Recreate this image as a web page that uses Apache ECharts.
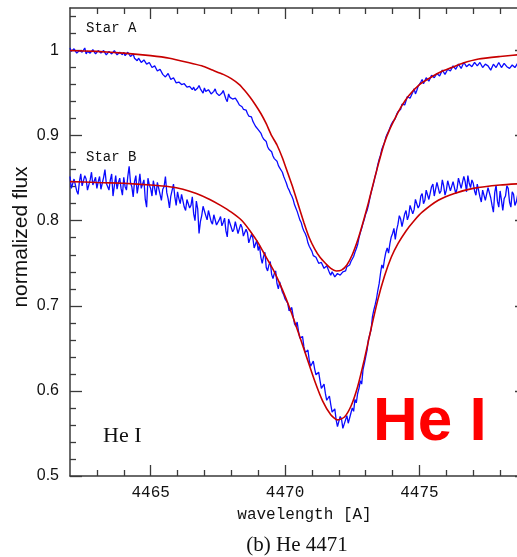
<!DOCTYPE html>
<html><head><meta charset="utf-8">
<script src="https://cdn.jsdelivr.net/npm/echarts@6/dist/echarts.min.js"></script>
<style>html,body{margin:0;padding:0;background:#fff}#c{width:517px;height:557px}</style>
</head><body><div id="c"></div>
<script>
// wavelength sampling grid of the observed spectra
const wlStart = 4462.0, wlStep = 0.05;

// observed spectrum, Star A (normalized flux), one row per Angstrom
const blueA = [
1.003, 0.999, 0.998, 1.002, 1.001, 0.997, 0.997, 1.000, 1.002, 0.998, 0.999, 1.003, 0.996, 0.999, 1.001, 0.997, 0.998, 1.001, 1.000, 0.996,
0.997, 1.000, 1.001, 0.997, 0.996, 1.000, 0.999, 0.995, 0.995, 0.999, 1.000, 0.996, 0.997, 1.000, 0.999, 0.995, 0.994, 0.998, 0.998, 0.995,
0.998, 0.994, 0.995, 0.998, 0.997, 0.993, 0.993, 0.996, 0.991, 0.989, 0.988, 0.991, 0.990, 0.986, 0.986, 0.989, 0.987, 0.984, 0.983, 0.986,
0.984, 0.980, 0.979, 0.982, 0.981, 0.976, 0.975, 0.978, 0.977, 0.972, 0.971, 0.969, 0.968, 0.973, 0.972, 0.966, 0.964, 0.968, 0.967, 0.962,
0.960, 0.963, 0.965, 0.960, 0.958, 0.961, 0.962, 0.957, 0.955, 0.958, 0.960, 0.954, 0.957, 0.953, 0.952, 0.956, 0.959, 0.955, 0.954, 0.950,
0.956, 0.952, 0.950, 0.954, 0.953, 0.949, 0.948, 0.952, 0.955, 0.950, 0.951, 0.947, 0.946, 0.950, 0.953, 0.948, 0.943, 0.940, 0.949, 0.945,
0.946, 0.943, 0.941, 0.944, 0.943, 0.939, 0.936, 0.938, 0.934, 0.931, 0.929, 0.930, 0.926, 0.923, 0.921, 0.922, 0.917, 0.914, 0.911, 0.910,
0.907, 0.905, 0.903, 0.899, 0.896, 0.895, 0.893, 0.887, 0.884, 0.883, 0.881, 0.876, 0.873, 0.872, 0.870, 0.865, 0.862, 0.860, 0.857, 0.852,
0.848, 0.844, 0.839, 0.836, 0.832, 0.829, 0.825, 0.819, 0.815, 0.811, 0.806, 0.801, 0.798, 0.792, 0.788, 0.785, 0.781, 0.774, 0.770, 0.768,
0.764, 0.759, 0.757, 0.757, 0.755, 0.750, 0.748, 0.751, 0.750, 0.744, 0.743, 0.747, 0.745, 0.739, 0.736, 0.740, 0.741, 0.734, 0.733, 0.738,
0.740, 0.736, 0.735, 0.740, 0.742, 0.741, 0.746, 0.744, 0.748, 0.752, 0.755, 0.758, 0.763, 0.767, 0.772, 0.780, 0.786, 0.791, 0.797, 0.802,
0.808, 0.812, 0.818, 0.826, 0.833, 0.839, 0.845, 0.852, 0.858, 0.866, 0.872, 0.877, 0.884, 0.888, 0.892, 0.898, 0.902, 0.905, 0.909, 0.913,
0.916, 0.914, 0.920, 0.925, 0.928, 0.927, 0.931, 0.937, 0.939, 0.936, 0.941, 0.946, 0.948, 0.944, 0.945, 0.951, 0.955, 0.949, 0.953, 0.958,
0.960, 0.963, 0.966, 0.961, 0.963, 0.968, 0.969, 0.964, 0.966, 0.971, 0.972, 0.968, 0.968, 0.973, 0.975, 0.970, 0.971, 0.977, 0.976, 0.972,
0.974, 0.978, 0.980, 0.976, 0.977, 0.982, 0.983, 0.978, 0.979, 0.984, 0.984, 0.979, 0.981, 0.986, 0.986, 0.981, 0.980, 0.984, 0.985, 0.981,
0.983, 0.986, 0.987, 0.982, 0.982, 0.986, 0.985, 0.980, 0.980, 0.984, 0.986, 0.982, 0.983, 0.977, 0.979, 0.984, 0.985, 0.980, 0.982, 0.986,
0.984, 0.980, 0.981, 0.985, 0.986, 0.981, 0.983, 0.979, 0.977, 0.983, 0.984, 0.980, 0.982, 0.985, 0.986, 0.982, 0.981, 0.986, 0.984, 0.980,
0.983];

// observed spectrum, Star B
const blueB = [
0.852, 0.838, 0.836, 0.849, 0.847, 0.835, 0.831, 0.846, 0.855, 0.841, 0.840, 0.853, 0.849, 0.836, 0.834, 0.848, 0.857, 0.842, 0.843, 0.851,
0.838, 0.846, 0.852, 0.837, 0.835, 0.851, 0.860, 0.844, 0.842, 0.836, 0.848, 0.855, 0.829, 0.841, 0.853, 0.837, 0.845, 0.850, 0.838, 0.830,
0.851, 0.840, 0.836, 0.852, 0.864, 0.845, 0.840, 0.828, 0.846, 0.853, 0.832, 0.842, 0.855, 0.838, 0.839, 0.848, 0.825, 0.816, 0.850, 0.842,
0.838, 0.829, 0.847, 0.838, 0.830, 0.845, 0.843, 0.831, 0.824, 0.837, 0.840, 0.852, 0.833, 0.826, 0.815, 0.829, 0.836, 0.843, 0.828, 0.818,
0.834, 0.826, 0.820, 0.831, 0.829, 0.816, 0.812, 0.825, 0.826, 0.815, 0.818, 0.828, 0.808, 0.800, 0.823, 0.814, 0.785, 0.799, 0.806, 0.817,
0.816, 0.806, 0.801, 0.812, 0.812, 0.799, 0.796, 0.807, 0.808, 0.795, 0.793, 0.801, 0.805, 0.794, 0.798, 0.803, 0.788, 0.781, 0.802, 0.797,
0.796, 0.787, 0.790, 0.799, 0.798, 0.785, 0.786, 0.796, 0.792, 0.782, 0.781, 0.790, 0.786, 0.774, 0.775, 0.784, 0.780, 0.768, 0.769, 0.777,
0.765, 0.771, 0.757, 0.750, 0.758, 0.763, 0.745, 0.741, 0.748, 0.752, 0.737, 0.732, 0.738, 0.741, 0.726, 0.720, 0.728, 0.730, 0.716, 0.713,
0.708, 0.710, 0.703, 0.694, 0.693, 0.698, 0.688, 0.679, 0.676, 0.681, 0.670, 0.662, 0.660, 0.664, 0.652, 0.645, 0.644, 0.648, 0.636, 0.629,
0.632, 0.635, 0.626, 0.619, 0.618, 0.622, 0.612, 0.603, 0.604, 0.608, 0.597, 0.589, 0.590, 0.594, 0.584, 0.575, 0.574, 0.579, 0.566, 0.558,
0.560, 0.570, 0.567, 0.556, 0.554, 0.566, 0.571, 0.562, 0.563, 0.574, 0.580, 0.576, 0.590, 0.586, 0.597, 0.603, 0.612, 0.608, 0.625, 0.632,
0.640, 0.648, 0.660, 0.666, 0.672, 0.687, 0.695, 0.701, 0.708, 0.718, 0.726, 0.738, 0.748, 0.744, 0.755, 0.763, 0.768, 0.762, 0.773, 0.781,
0.785, 0.791, 0.778, 0.789, 0.796, 0.806, 0.802, 0.793, 0.795, 0.808, 0.812, 0.801, 0.806, 0.818, 0.820, 0.808, 0.813, 0.825, 0.826, 0.815,
0.818, 0.829, 0.832, 0.820, 0.824, 0.836, 0.838, 0.825, 0.827, 0.840, 0.843, 0.829, 0.831, 0.845, 0.846, 0.832, 0.835, 0.848, 0.841, 0.830,
0.836, 0.847, 0.848, 0.835, 0.833, 0.846, 0.845, 0.832, 0.838, 0.850, 0.851, 0.838, 0.840, 0.852, 0.846, 0.834, 0.853, 0.844, 0.839, 0.848,
0.844, 0.835, 0.830, 0.843, 0.842, 0.828, 0.822, 0.836, 0.837, 0.824, 0.826, 0.839, 0.840, 0.827, 0.818, 0.810, 0.833, 0.842, 0.823, 0.816,
0.835, 0.824, 0.812, 0.826, 0.829, 0.841, 0.838, 0.822, 0.816, 0.834, 0.831, 0.818, 0.822, 0.830, 0.806, 0.818, 0.828, 0.838, 0.815, 0.808,
0.825];

// model fits [wavelength, flux]
const redA = [[4462,1.000],[4463,0.999],[4464,0.997],[4465,0.994],[4465.7,0.991],[4466.4,0.986],[4466.9,0.982],[4467.3,0.977],[4467.7,0.972],[4468.0,0.967],[4468.3,0.960],[4468.5,0.953],[4468.7,0.945],[4468.9,0.936],[4469.1,0.926],[4469.3,0.914],[4469.5,0.900],[4469.7,0.889],[4469.9,0.874],[4470.1,0.856],[4470.3,0.838],[4470.5,0.818],[4470.7,0.798],[4470.9,0.780],[4471.1,0.767],[4471.3,0.757],[4471.5,0.750],[4471.7,0.744],[4471.9,0.741],[4472.1,0.742],[4472.3,0.748],[4472.5,0.760],[4472.7,0.777],[4472.9,0.798],[4473.1,0.821],[4473.3,0.846],[4473.5,0.870],[4473.7,0.892],[4473.9,0.908],[4474.1,0.921],[4474.3,0.933],[4474.6,0.947],[4475.0,0.960],[4475.4,0.968],[4475.8,0.975],[4476.2,0.980],[4476.6,0.985],[4477.2,0.990],[4478.0,0.993],[4479,0.996]];
const redB = [[4462,0.846],[4463,0.845],[4464,0.844],[4465,0.842],[4465.7,0.840],[4466.2,0.837],[4466.7,0.832],[4467.2,0.825],[4467.6,0.818],[4468.0,0.810],[4468.4,0.800],[4468.7,0.788],[4469.0,0.774],[4469.3,0.757],[4469.6,0.740],[4469.9,0.719],[4470.2,0.695],[4470.5,0.668],[4470.8,0.640],[4471.1,0.612],[4471.4,0.588],[4471.7,0.572],[4471.95,0.566],[4472.2,0.569],[4472.45,0.582],[4472.7,0.605],[4472.95,0.637],[4473.2,0.673],[4473.45,0.707],[4473.7,0.735],[4473.95,0.757],[4474.2,0.773],[4474.5,0.788],[4474.8,0.800],[4475.1,0.810],[4475.7,0.824],[4476.3,0.832],[4477.0,0.838],[4478.0,0.842],[4479,0.844]];

// ticks
const xMajorTicks = [4465, 4470, 4475];
const xMinorTicks = [4463, 4464, 4466, 4467, 4468, 4469, 4471, 4472, 4473, 4474, 4476, 4477, 4478];
const yMajorTicks = [0.5, 0.6, 0.7, 0.8, 0.9, 1.0];
const yMinorTicks = [0.52, 0.54, 0.56, 0.58, 0.62, 0.64, 0.66, 0.68, 0.72, 0.74, 0.76, 0.78, 0.82, 0.84, 0.86, 0.88, 0.92, 0.94, 0.96, 0.98, 1.02, 1.04];
const xMin = 4462, xMax = 4479, yMin = 0.5, yMax = 1.05;

function toPairs(vals) { return vals.map((v, i) => [+(wlStart + i * wlStep).toFixed(2), v]); }

const axisCol = '#3a3a3a';
const gridBox = { left: 70, top: 8, width: 457, height: 468, outerBoundsMode: 'none', containLabel: false };

function xAx(grid, pos, ticks, len, main) {
  return {
    type: 'value', gridIndex: grid, position: pos, min: xMin, max: xMax,
    axisLine: { show: main, lineStyle: { color: axisCol, width: 1.5 } },
    axisTick: { show: true, inside: true, length: len, customValues: ticks, lineStyle: { color: axisCol, width: 1.3 } },
    axisLabel: { show: false },
    splitLine: { show: false }
  };
}
function yAx(grid, pos, ticks, len, main) {
  return {
    type: 'value', gridIndex: grid, position: pos, min: yMin, max: yMax,
    axisLine: { show: main, lineStyle: { color: axisCol, width: 1.5 } },
    axisTick: { show: true, inside: true, length: len, customValues: ticks, lineStyle: { color: axisCol, width: 1.3 } },
    axisLabel: { show: false },
    splitLine: { show: false }
  };
}

const xBottom = xAx(0, 'bottom', xMajorTicks, 11, true);
xBottom.axisLabel = { show: true, customValues: xMajorTicks, margin: 9, fontFamily: 'Liberation Mono', fontSize: 16, color: '#111', formatter: v => String(v) };
xBottom.name = 'wavelength [A]';
xBottom.nameLocation = 'middle';
xBottom.nameGap = 31;
xBottom.nameTextStyle = { fontFamily: 'Liberation Mono', fontSize: 16, color: '#111', padding: [0, 0, 0, 12] };

const yLeft = yAx(0, 'left', yMajorTicks, 12, true);
yLeft.axisLabel = { show: true, customValues: yMajorTicks, margin: 11, fontFamily: 'Liberation Sans', fontSize: 16, color: '#111', formatter: v => String(v) };
yLeft.name = 'normalized flux';
yLeft.nameLocation = 'middle';
yLeft.nameGap = 38;
yLeft.nameMoveOverlap = false;
yLeft.nameTextStyle = { fontFamily: 'Liberation Sans', fontSize: 21, color: '#111', padding: [0, 0, 0, 10] };

const chart = echarts.init(document.getElementById('c'), null, { renderer: 'canvas' });
chart.setOption({
  animation: false,
  backgroundColor: '#fff',
  grid: [Object.assign({}, gridBox), Object.assign({}, gridBox)],
  xAxis: [
    xBottom,
    xAx(0, 'top', xMajorTicks, 11, true),
    xAx(1, 'bottom', xMinorTicks, 6, false),
    xAx(1, 'top', xMinorTicks, 6, false)
  ],
  yAxis: [
    yLeft,
    yAx(0, 'right', yMajorTicks, 12, true),
    yAx(1, 'left', yMinorTicks, 6, false),
    yAx(1, 'right', yMinorTicks, 6, false)
  ],
  series: [
    { type: 'line', xAxisIndex: 0, yAxisIndex: 0, data: toPairs(blueA), showSymbol: false, lineStyle: { color: '#0a0aff', width: 1.3 }, z: 2 },
    { type: 'line', xAxisIndex: 0, yAxisIndex: 0, data: toPairs(blueB), showSymbol: false, lineStyle: { color: '#0a0aff', width: 1.3 }, z: 2 },
    { type: 'line', xAxisIndex: 0, yAxisIndex: 0, data: redA, smooth: 0.2, showSymbol: false, lineStyle: { color: '#c80000', width: 1.6 }, z: 3 },
    { type: 'line', xAxisIndex: 0, yAxisIndex: 0, data: redB, smooth: 0.2, showSymbol: false, lineStyle: { color: '#c80000', width: 1.6 }, z: 3 }
  ],
  graphic: [
    { type: 'text', x: 86, y: 28, style: { text: 'Star A', font: '14px "Liberation Mono"', fill: '#111', textAlign: 'left', textVerticalAlign: 'middle' } },
    { type: 'text', x: 86, y: 157, style: { text: 'Star B', font: '14px "Liberation Mono"', fill: '#111', textAlign: 'left', textVerticalAlign: 'middle' } },
    { type: 'text', x: 103, y: 436, style: { text: 'He I', font: '22px "Liberation Serif"', fill: '#111', textAlign: 'left', textVerticalAlign: 'middle' } },
    { type: 'text', x: 373, y: 423, z: 10, style: { text: 'He I', font: 'bold 62px "Liberation Sans"', fill: '#ff0000', textAlign: 'left', textVerticalAlign: 'middle' } },
    { type: 'text', x: 297, y: 545, style: { text: '(b) He 4471', font: '21px "Liberation Serif"', fill: '#111', textAlign: 'center', textVerticalAlign: 'middle' } }
  ]
});
</script>
</body></html>
